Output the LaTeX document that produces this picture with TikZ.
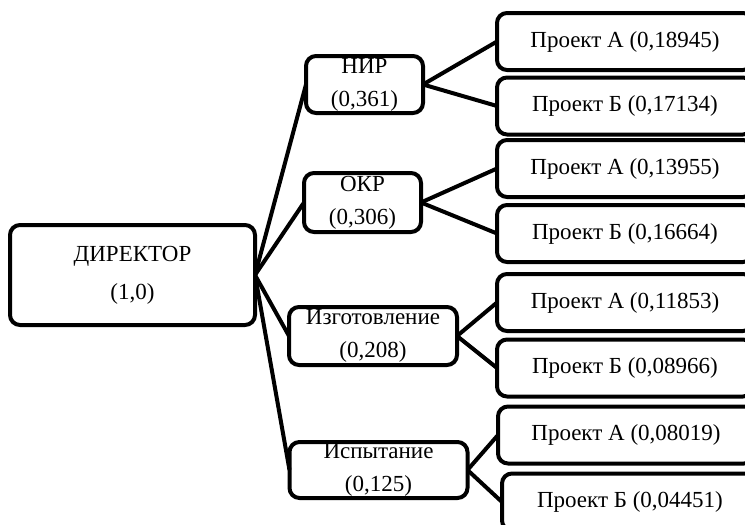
\documentclass[tikz,border=0pt]{standalone}
\usepackage{fontspec}
\setmainfont{Liberation Serif}
\usepackage{tikz}

\begin{document}
\begin{tikzpicture}[x=0.5pt, y=-0.5pt, every node/.style={font=\fontsize{11.5}{16.5}\selectfont},
	box/.style={draw, line width=2pt, rounded corners=5pt, inner sep=0pt, outer sep=0pt, align=center},
	link/.style={line width=2pt}]
	\useasboundingbox (0,0) rectangle (745,525);
	\clip (0,0) rectangle (745,525);
	\node[box, minimum width=122.5pt, minimum height=50pt, font=\fontsize{11.5}{19}\selectfont] (dir) at (132.5,275) {ДИРЕКТОР\\(1,0)};
	\node[box, minimum width=58.5pt, minimum height=28.5pt] (nir) at (364.5,84.5) {НИР\\(0,361)};
	\node[box, minimum width=58.5pt, minimum height=29.5pt] (okr) at (362.5,202.5) {ОКР\\(0,306)};
	\node[box, minimum width=84pt, minimum height=29pt] (izg) at (373,336) {Изготовление\\(0,208)};
	\node[box, minimum width=89pt, minimum height=28pt] (isp) at (378.5,470) {Испытание\\(0,125)};
	\foreach \n/\x/\y/\t in {1/625/41.5/{Проект А (0,18945)}, 2/625/106/{Проект Б (0,17134)}, 3/625/168.5/{Проект А (0,13955)}, 4/625/233.5/{Проект Б (0,16664)},
		5/625/302.5/{Проект А (0,11853)}, 6/625/368/{Проект Б (0,08966)}, 7/626/435/{Проект А (0,08019)}, 8/630/502/{Проект Б (0,04451)}}
		{\node[box, minimum width=128pt, minimum height=28.5pt] (p\n) at (\x,\y) {\t};}
	\foreach \q in {nir, okr, izg, isp} {\draw[link] (dir.east) -- (\q.west);}
	\foreach \p/\q in {nir/p1, nir/p2, okr/p3, okr/p4, izg/p5, izg/p6, isp/p7, isp/p8} {\draw[link] (\p.east) -- (\q.west);}
\end{tikzpicture}
\end{document}
